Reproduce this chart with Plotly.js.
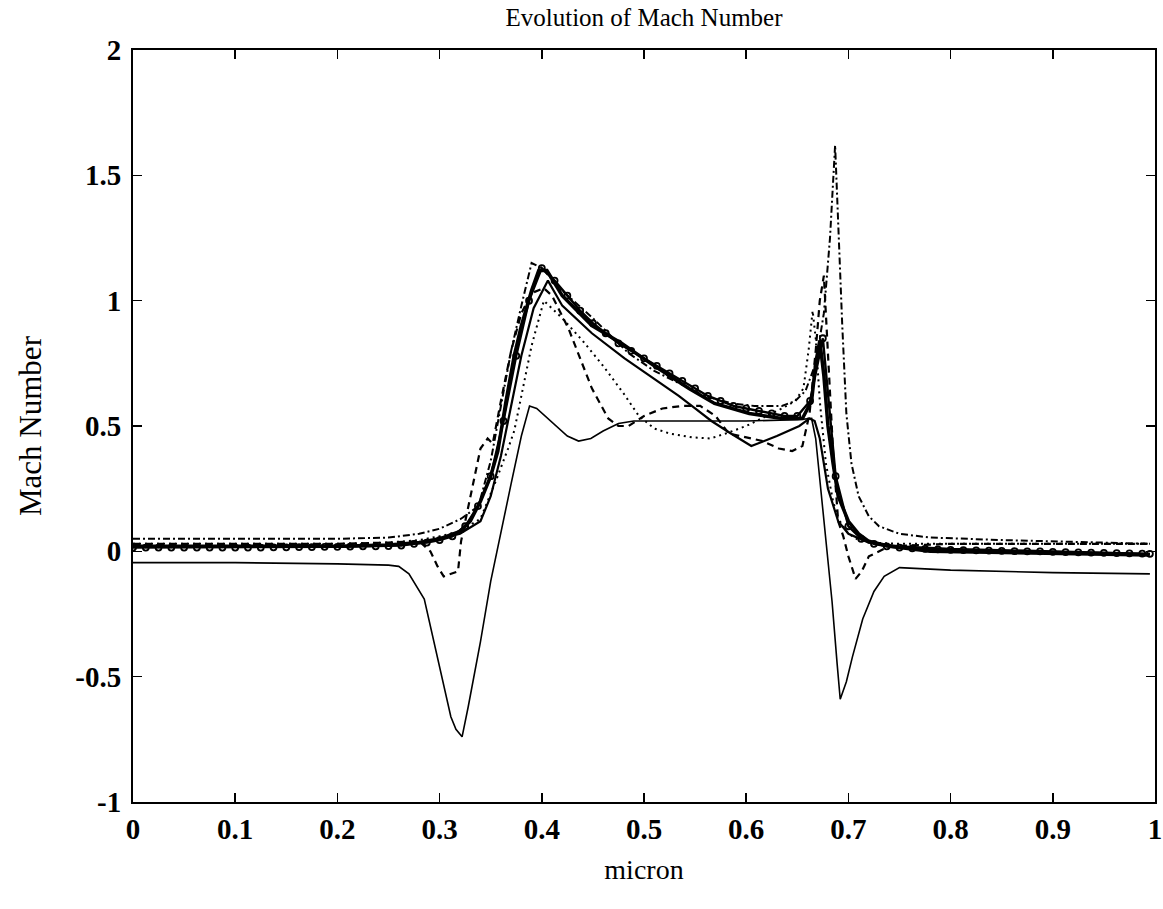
<!DOCTYPE html>
<html>
<head>
<meta charset="utf-8">
<script src="https://cdn.plot.ly/plotly-3.0.1.min.js"></script>
<style>html,body{margin:0;padding:0;background:#fff;}#chart{width:1163px;height:909px;}</style>
</head>
<body>
<div id="chart"></div>
<script>
// thin solid line (deep negative dips)
var xA = [0, 0.1, 0.2, 0.25, 0.26, 0.27, 0.285, 0.298, 0.311, 0.316, 0.322, 0.328, 0.34, 0.35, 0.36, 0.37, 0.38, 0.388, 0.395, 0.409, 0.425, 0.436, 0.448, 0.46, 0.475, 0.49, 0.55, 0.60, 0.65, 0.664, 0.668, 0.674, 0.684, 0.689, 0.692, 0.698, 0.704, 0.714, 0.725, 0.735, 0.75, 0.8, 0.9, 0.995];
var yA = [-0.045, -0.045, -0.05, -0.055, -0.06, -0.09, -0.19, -0.42, -0.66, -0.71, -0.74, -0.62, -0.36, -0.12, 0.08, 0.27, 0.46, 0.58, 0.57, 0.52, 0.46, 0.44, 0.45, 0.48, 0.51, 0.52, 0.52, 0.52, 0.525, 0.53, 0.45, 0.2, -0.2, -0.45, -0.59, -0.52, -0.42, -0.27, -0.16, -0.1, -0.065, -0.075, -0.085, -0.09];

// dashed line
var xB = [0, 0.1, 0.2, 0.25, 0.28, 0.291, 0.298, 0.304, 0.312, 0.318, 0.321, 0.331, 0.34, 0.347, 0.352, 0.36, 0.37, 0.38, 0.39, 0.402, 0.41, 0.426, 0.449, 0.465, 0.475, 0.485, 0.50, 0.518, 0.537, 0.555, 0.57, 0.583, 0.60, 0.616, 0.632, 0.645, 0.655, 0.662, 0.668, 0.672, 0.676, 0.68, 0.685, 0.69, 0.695, 0.70, 0.707, 0.713, 0.72, 0.74, 0.8, 0.9, 0.995];
var yB = [0.03, 0.03, 0.03, 0.035, 0.04, 0.0, -0.06, -0.1, -0.09, -0.08, 0.04, 0.24, 0.41, 0.45, 0.43, 0.6, 0.8, 0.95, 1.03, 1.05, 1.02, 0.89, 0.65, 0.53, 0.50, 0.50, 0.54, 0.57, 0.58, 0.58, 0.54, 0.47, 0.455, 0.44, 0.41, 0.40, 0.42, 0.55, 0.8, 1.0, 1.1, 0.8, 0.4, 0.12, 0.06, -0.02, -0.11, -0.08, -0.02, 0.02, 0.03, 0.03, 0.03];

// dotted line
var xC = [0, 0.1, 0.2, 0.25, 0.28, 0.30, 0.32, 0.34, 0.355, 0.367, 0.373, 0.38, 0.39, 0.402, 0.42, 0.44, 0.46, 0.48, 0.495, 0.51, 0.525, 0.547, 0.565, 0.58, 0.60, 0.62, 0.635, 0.648, 0.656, 0.661, 0.665, 0.668, 0.672, 0.678, 0.685, 0.69, 0.70, 0.71, 0.72, 0.75, 0.8, 0.9, 0.995];
var yC = [0.03, 0.03, 0.03, 0.035, 0.045, 0.06, 0.08, 0.13, 0.28, 0.41, 0.48, 0.62, 0.82, 1.0, 0.93, 0.84, 0.74, 0.63, 0.54, 0.49, 0.47, 0.455, 0.45, 0.47, 0.5, 0.54, 0.57, 0.6, 0.65, 0.8, 0.96, 0.85, 0.6, 0.35, 0.2, 0.13, 0.07, 0.045, 0.035, 0.03, 0.03, 0.03, 0.03];

// dash-dot line
var xD = [0, 0.1, 0.2, 0.25, 0.28, 0.30, 0.321, 0.338, 0.35, 0.36, 0.37, 0.38, 0.39, 0.40, 0.42, 0.45, 0.485, 0.51, 0.53, 0.559, 0.586, 0.608, 0.635, 0.648, 0.658, 0.668, 0.676, 0.682, 0.687, 0.69, 0.694, 0.698, 0.703, 0.71, 0.72, 0.73, 0.75, 0.78, 0.85, 0.995];
var yD = [0.05, 0.05, 0.05, 0.055, 0.07, 0.09, 0.13, 0.18, 0.36, 0.58, 0.8, 0.98, 1.15, 1.13, 1.04, 0.93, 0.79, 0.72, 0.68, 0.62, 0.59, 0.58, 0.58, 0.6, 0.64, 0.75, 0.95, 1.25, 1.62, 1.3, 0.9, 0.55, 0.35, 0.22, 0.14, 0.1, 0.07, 0.055, 0.045, 0.03];

// thick solid line
var xE = [0, 0.1, 0.2, 0.25, 0.28, 0.30, 0.32, 0.33, 0.34, 0.35, 0.357, 0.365, 0.373, 0.38, 0.39, 0.397, 0.405, 0.42, 0.449, 0.478, 0.51, 0.544, 0.569, 0.603, 0.635, 0.655, 0.664, 0.668, 0.672, 0.676, 0.68, 0.685, 0.69, 0.70, 0.71, 0.72, 0.74, 0.78, 0.9, 0.995];
var yE = [0.02, 0.02, 0.02, 0.025, 0.035, 0.05, 0.08, 0.12, 0.2, 0.3, 0.4, 0.6, 0.78, 0.9, 1.04, 1.12, 1.12, 1.02, 0.9, 0.83, 0.74, 0.65, 0.59, 0.55, 0.53, 0.53, 0.6, 0.75, 0.84, 0.7, 0.5, 0.35, 0.22, 0.12, 0.07, 0.04, 0.02, 0.0, -0.01, -0.015];

// solid line with circle markers
var xF = [0, 0.0125, 0.025, 0.0375, 0.05, 0.0625, 0.075, 0.0875, 0.1, 0.1125, 0.125, 0.1375, 0.15, 0.1625, 0.175, 0.1875, 0.2, 0.2125, 0.225, 0.2375, 0.25, 0.2625, 0.275, 0.2875, 0.3, 0.3125, 0.325, 0.3375, 0.35, 0.3625, 0.375, 0.3875, 0.4, 0.4125, 0.425, 0.4375, 0.45, 0.4625, 0.475, 0.4875, 0.5, 0.5125, 0.525, 0.5375, 0.55, 0.5625, 0.575, 0.5875, 0.6, 0.6125, 0.625, 0.6375, 0.65, 0.6625, 0.675, 0.6875, 0.7, 0.7125, 0.725, 0.7375, 0.75, 0.7625, 0.775, 0.7875, 0.8, 0.8125, 0.825, 0.8375, 0.85, 0.8625, 0.875, 0.8875, 0.9, 0.9125, 0.925, 0.9375, 0.95, 0.9625, 0.975, 0.9875, 0.995];
var yF = [0.015, 0.015, 0.015, 0.015, 0.015, 0.015, 0.015, 0.015, 0.015, 0.015, 0.015, 0.016, 0.016, 0.017, 0.017, 0.018, 0.018, 0.019, 0.02, 0.02, 0.021, 0.023, 0.03, 0.035, 0.045, 0.06, 0.1, 0.18, 0.3, 0.52, 0.78, 1.0, 1.13, 1.08, 1.02, 0.96, 0.91, 0.87, 0.83, 0.8, 0.77, 0.74, 0.71, 0.68, 0.65, 0.62, 0.6, 0.58, 0.57, 0.56, 0.55, 0.54, 0.54, 0.6, 0.85, 0.3, 0.1, 0.05, 0.03, 0.02, 0.015, 0.012, 0.01, 0.008, 0.006, 0.005, 0.004, 0.003, 0.002, 0.001, 0.0, 0.0, -0.002, -0.003, -0.004, -0.005, -0.006, -0.007, -0.008, -0.009, -0.01];

// medium solid line
var xG = [0, 0.1, 0.2, 0.25, 0.28, 0.30, 0.32, 0.34, 0.35, 0.36, 0.37, 0.38, 0.392, 0.406, 0.42, 0.449, 0.481, 0.517, 0.534, 0.55, 0.566, 0.585, 0.605, 0.63, 0.652, 0.662, 0.667, 0.672, 0.68, 0.69, 0.70, 0.72, 0.75, 0.8, 0.9, 0.995];
var yG = [0.02, 0.02, 0.02, 0.025, 0.035, 0.05, 0.07, 0.12, 0.22, 0.38, 0.58, 0.78, 0.97, 1.08, 0.98, 0.87, 0.77, 0.67, 0.62, 0.57, 0.52, 0.47, 0.42, 0.46, 0.5, 0.53, 0.52, 0.45, 0.25, 0.12, 0.07, 0.035, 0.02, 0.01, 0.0, -0.01];

var xTickVals = [0, 0.1, 0.2, 0.3, 0.4, 0.5, 0.6, 0.7, 0.8, 0.9, 1];
var xTickText = ['0', '0.1', '0.2', '0.3', '0.4', '0.5', '0.6', '0.7', '0.8', '0.9', '1'];
var yTickVals = [-1, -0.5, 0, 0.5, 1, 1.5, 2];
var yTickText = ['-1', '-0.5', '0', '0.5', '1', '1.5', '2'];

var K = '#000000';
var SERIF = 'Liberation Serif, Times New Roman, serif';
function ln(x, y, w, dash) {
  return {x: x, y: y, type: 'scatter', mode: 'lines', line: {color: K, width: w, dash: dash}, hoverinfo: 'skip'};
}
var traces = [
  ln(xA, yA, 1.6, 'solid'),
  ln(xB, yB, 2.2, '7px,5px'),
  ln(xC, yC, 2, '2px,4px'),
  ln(xD, yD, 2, '7px,3px,2px,3px'),
  ln(xG, yG, 2.2, 'solid'),
  ln(xE, yE, 3.5, 'solid'),
  {x: xF, y: yF, type: 'scatter', mode: 'lines+markers', line: {color: K, width: 2.4},
   marker: {symbol: 'circle-open', size: 6, color: K, line: {color: K, width: 1.8}}, hoverinfo: 'skip'}
];

var fontTick = {family: SERIF, size: 29, color: K, weight: 'bold'};
var layout = {
  width: 1163, height: 909,
  paper_bgcolor: '#ffffff', plot_bgcolor: '#ffffff',
  showlegend: false,
  margin: {l: 133, r: 8, t: 50, b: 107},
  title: {text: 'Evolution of Mach Number', font: {family: SERIF, size: 25, color: K},
          xref: 'paper', x: 0.5, xanchor: 'center', yref: 'container', y: 0.981, yanchor: 'middle'},
  xaxis: {
    range: [0, 1], tickvals: xTickVals, ticktext: xTickText,
    ticks: 'inside', ticklen: 9, tickwidth: 1.5, tickcolor: K,
    showline: true, linecolor: K, linewidth: 2, mirror: 'ticks',
    showgrid: false, zeroline: false, tickfont: fontTick, ticklabelstandoff: 0,
    title: {text: 'micron', font: {family: SERIF, size: 28, color: K}, standoff: 16}
  },
  yaxis: {
    range: [-1, 2], tickvals: yTickVals, ticktext: yTickText,
    ticks: 'inside', ticklen: 9, tickwidth: 1.5, tickcolor: K,
    showline: true, linecolor: K, linewidth: 2, mirror: 'ticks',
    showgrid: false, zeroline: false, tickfont: fontTick, ticklabelstandoff: 4,
    title: {text: 'Mach Number', font: {family: SERIF, size: 31, color: K}, standoff: 24}
  }
};
Plotly.newPlot('chart', traces, layout, {staticPlot: true, displayModeBar: false});
</script>
</body>
</html>
